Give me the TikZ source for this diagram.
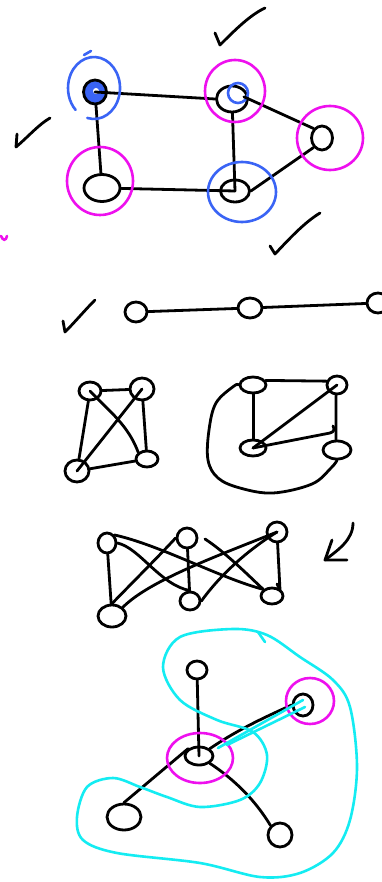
\documentclass[tikz,border=0pt]{standalone}
\usetikzlibrary{shapes.geometric}
\definecolor{penblue}{RGB}{58,100,245}
\definecolor{penmag}{RGB}{238,16,238}
\definecolor{pencyan}{RGB}{20,236,242}
\tikzset{
  ink/.style={draw=black, line width=2.8pt, line cap=round, line join=round},
  vtx/.style 2 args={draw=black, line width=2.8pt, ellipse, inner sep=0pt,
    minimum width=#1pt, minimum height=#2pt},
  blueloop/.style={draw=penblue, line width=2.6pt, line cap=round},
  magloop/.style={draw=penmag, line width=2.6pt, line cap=round},
  cyanloop/.style={draw=pencyan, line width=2.6pt, line cap=round, line join=round},
}
\begin{document}
\begin{tikzpicture}[x=1pt, y=-1pt]
\useasboundingbox[fill=white] (0,0) rectangle (382,882);

% ---------- top graph ----------
\node[vtx={23}{24}, fill=penblue] (A) at (95,92) {};
\fill[white] (96,91) circle [radius=3];
\node[vtx={31}{26}] (B) at (232,99) {};
\draw[blueloop] (238,93) circle [radius=10];
\node[vtx={21}{24}] (C) at (322,138) {};
\node[vtx={36}{27}] (D) at (102,188) {};
\node[vtx={29}{22}] (E) at (235,191) {};

\draw[ink] (A.center) -- (B.west);
\draw[ink] (A) -- (D);
\draw[ink] (D) -- (E.center);
\draw[ink] (B) -- (E.center);
\draw[ink] (B.north east) ++(0,8) -- (C.north west);
\draw[ink] (E.east) -- (C.south west);

\draw[blueloop] (94,88) ++(105:26 and 31) arc [start angle=105, end angle=-225, x radius=26, y radius=31];
\draw[blueloop] (91,51) -- (84,55);
\draw[magloop] (235,91) ellipse [x radius=30, y radius=31];
\draw[magloop] (330,138) ellipse [x radius=33, y radius=32];
\draw[magloop] (100,181) ellipse [x radius=33, y radius=34];
\draw[blueloop] (242,192) ellipse [x radius=34, y radius=30];
\draw[magloop] (1,236) .. controls (3,241) and (6,241) .. (7,236);

% check marks
\draw[ink] (215,33) -- (220,45) .. controls (235,30) and (250,15) .. (265,8);
\draw[ink] (17,134) -- (16,147) .. controls (28,137) and (38,125) .. (50,118);
\draw[ink] (270,246) -- (275,254) .. controls (290,238) and (305,222) .. (320,213);
\draw[ink] (63,321) -- (65,332) .. controls (75,322) and (85,310) .. (95,300);

% ---------- path ----------
\node[vtx={22}{20}] (P1) at (136,312) {};
\node[vtx={24}{20}] (P2) at (250,308) {};
\node[vtx={22}{20}] (P3) at (378,303) {};
\draw[ink] (P1) -- (P2);
\draw[ink] (P2) -- (P3);

% ---------- K4 (crossing) ----------
\node[vtx={22}{18}] (KA) at (90,391) {};
\node[vtx={24}{22}] (KB) at (142,389) {};
\node[vtx={24}{22}] (KC) at (77,471) {};
\node[vtx={22}{16}] (KD) at (147,459) {};
\draw[ink] (KA) -- (KB);
\draw[ink] (KA) -- (KC);
\draw[ink] (KB) -- (KD);
\draw[ink] (KC) -- (KD);
\draw[ink] (KA.center) .. controls (110,412) and (128,425) .. (KD.north west);
\draw[ink] (KB.center) -- (KC.center);

% ---------- K4 (planar) ----------
\node[vtx={26}{16}] (LA) at (253,385) {};
\node[vtx={20}{18}] (LB) at (337,385) {};
\node[vtx={26}{16}] (LC) at (253,448) {};
\node[vtx={28}{18}] (LD) at (337,450) {};
\draw[ink] (LA.20) -- (LB.160);
\draw[ink] (LA.-85) -- (LC.85);
\draw[ink] (LB.-95) -- (LD.95);
\draw[ink] (LC.center) -- (LB.center);
\draw[ink] (LC.center) -- (330,433) .. controls (334,432) and (335,429) .. (333,426);
\draw[ink] plot[smooth, tension=0.6] coordinates {(LA.west) (234,386) (216,403) (209,430) (208,460) (218,478) (240,488) (273,493) (312,484) (331,468) (LD.south)};

% ---------- K3,3 ----------
\node[vtx={18}{20}] (T1) at (107,543) {};
\node[vtx={20}{20}] (T2) at (187,538) {};
\node[vtx={20}{20}] (T3) at (277,532) {};
\node[vtx={28}{22}] (U1) at (112,616) {};
\node[vtx={20}{18}] (U2) at (190,601) {};
\node[vtx={22}{16}] (U3) at (272,596) {};
\draw[ink] (T1) -- (U1);
\draw[ink] (T1.east) .. controls (140,548) and (160,585) .. (U2.north);
\draw[ink] (T1.north east) .. controls (160,545) and (220,578) .. (U3.north west);
\draw[ink] (T2.west) .. controls (160,555) and (130,585) .. (U1.north);
\draw[ink] (T2) -- (U2);
\draw[ink] (205,539) .. controls (225,552) and (248,575) .. (U3.north west);
\draw[ink] (T3.center) .. controls (220,555) and (150,580) .. (U1.north east);
\draw[ink] (T3.center) .. controls (240,555) and (215,582) .. (U2.east);
\draw[ink] (T3) -- (280,590) -- (277,584);

% arrow
\coordinate (tip) at (325,560);
\draw[ink] (353,523) .. controls (353,540) and (338,550) .. (tip);
\draw[ink] (332,540) -- (tip) -- (347,560);

% ---------- star ----------
\node[vtx={28}{18}] (S0) at (199,756) {};
\node[vtx={20}{18}] (S1) at (197,670) {};
\node[vtx={20}{22}] (S2) at (303,705) {};
\node[vtx={34}{26}] (S3) at (124,817) {};
\node[vtx={24}{24}] (S4) at (280,835) {};
\draw[ink] (S0.center) -- (S1);
\draw[ink] (S0.north east) .. controls (240,728) and (270,715) .. (S2.west);
\draw[ink] (S0.north west) -- (S3.north);
\draw[ink] (S0.south east) .. controls (235,780) and (255,800) .. (S4.north west);

\draw[magloop] (200,758) ellipse [x radius=33, y radius=25];
\draw[magloop] (310,701) ellipse [x radius=24, y radius=23];
\draw[cyanloop] (218,748) -- (303,700);
\draw[cyanloop] (227,745) -- (305,707);

\draw[cyanloop] plot[smooth cycle, tension=0.55] coordinates {
  (233,629) (180,637) (163,667) (180,700) (217,720) (253,732) (267,755)
  (260,783) (240,800) (200,807) (167,797) (140,787) (113,778) (87,787)
  (77,817) (83,840) (117,853) (200,863) (260,877) (300,873) (333,853)
  (350,820) (357,767) (350,707) (333,680) (300,657) (267,635)};
\draw[cyanloop] (265,642) -- (258,632);
\end{tikzpicture}
\end{document}
